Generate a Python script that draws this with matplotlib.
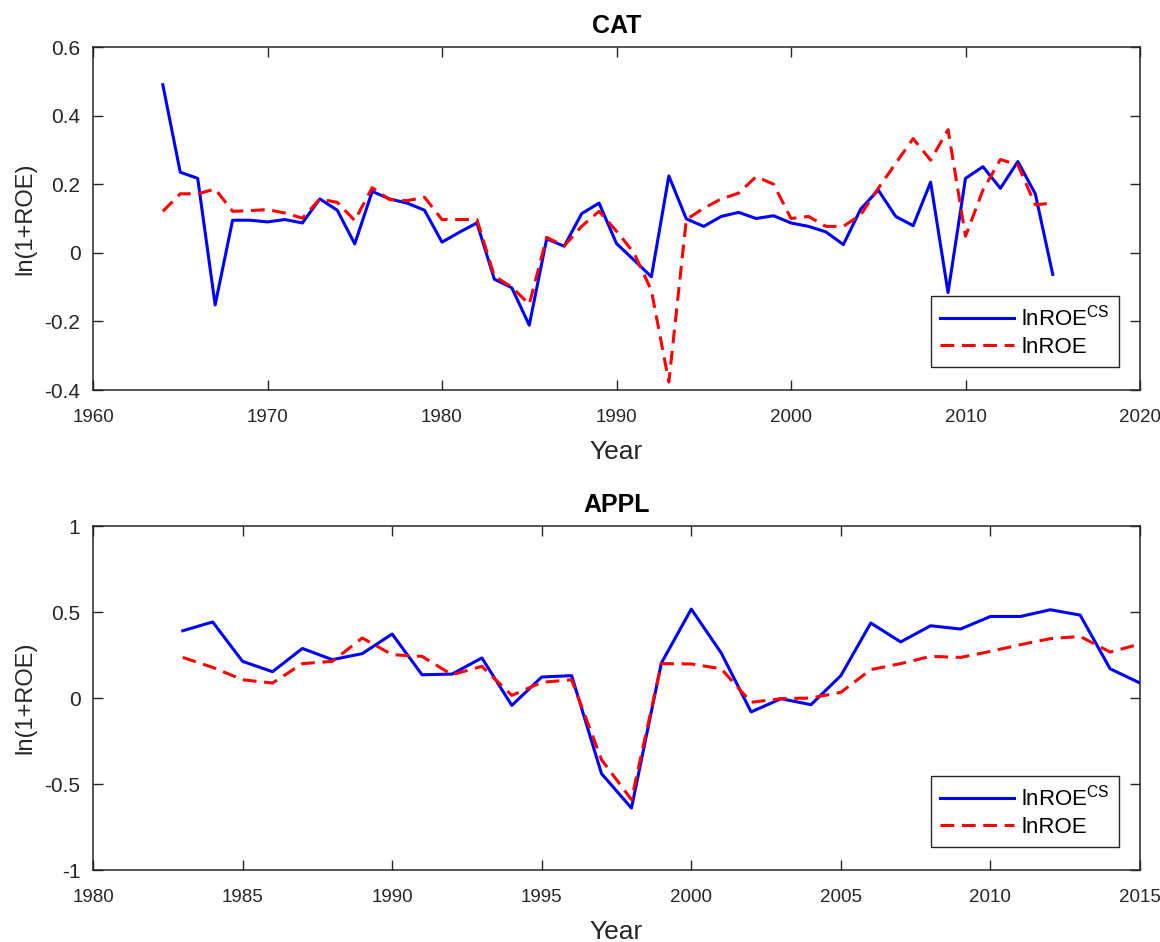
import matplotlib
matplotlib.use("Agg")
import matplotlib.pyplot as plt
from matplotlib.ticker import FuncFormatter

plt.rcParams["font.family"] = ["Liberation Sans", "DejaVu Sans"]
plt.rcParams["mathtext.fontset"] = "custom"
plt.rcParams["mathtext.rm"] = "Liberation Sans"
plt.rcParams["axes.unicode_minus"] = False

# CAT: 1964-2015
cat_years = list(range(1964, 2016))
cat_lnroe_cs = [0.49, 0.235, 0.217, -0.152, 0.095, 0.095, 0.09, 0.097, 0.087, 0.157,
                0.124, 0.026, 0.179, 0.157, 0.145, 0.124, 0.031, 0.06, 0.087, -0.077,
                -0.102, -0.211, 0.041, 0.019, 0.114, 0.145, 0.027, -0.021, -0.07, 0.224,
                0.099, 0.077, 0.106, 0.118, 0.1, 0.108, 0.087, 0.077, 0.061, 0.024,
                0.128, 0.183, 0.106, 0.079, 0.206, -0.116, 0.217, 0.251, 0.188, 0.266,
                0.172, -0.063]
cat_lnroe = [0.121, 0.172, 0.172, 0.186, 0.121, 0.123, 0.126, 0.116, 0.101, 0.157,
             0.147, 0.094, 0.19, 0.155, 0.152, 0.162, 0.097, 0.097, 0.097, -0.068,
             -0.1, -0.15, 0.045, 0.02, 0.077, 0.121, 0.063, 0.0, -0.11, -0.377,
             0.097, 0.13, 0.157, 0.174, 0.222, 0.2, 0.1, 0.106, 0.077, 0.077,
             0.111, 0.188, 0.261, 0.333, 0.27, 0.359, 0.048, 0.183, 0.272, 0.256,
             0.14, 0.145]

# APPL: 1983-2015
appl_years = list(range(1983, 2016))
appl_lnroe_cs = [0.391, 0.442, 0.213, 0.153, 0.288, 0.223, 0.258, 0.372, 0.135,
                 0.139, 0.233, -0.043, 0.122, 0.13, -0.44, -0.64, 0.203, 0.517, 0.262, -0.081,
                 -0.004, -0.039, 0.13, 0.436, 0.326, 0.42, 0.401, 0.474, 0.474, 0.513,
                 0.482, 0.17, 0.087]
appl_lnroe = [0.236, 0.178, 0.106, 0.087, 0.2, 0.213, 0.349, 0.252, 0.242,
              0.135, 0.184, 0.015, 0.091, 0.106, -0.359, -0.591, 0.2, 0.198, 0.17, -0.025,
              -0.004, 0.0, 0.033, 0.165, 0.2, 0.242, 0.236, 0.271, 0.31, 0.345,
              0.358, 0.267, 0.314]

cat_yticks = [-0.4, -0.2, 0, 0.2, 0.4, 0.6]
appl_yticks = [-1, -0.5, 0, 0.5, 1]
cat_xticks = [1960, 1970, 1980, 1990, 2000, 2010, 2020]
appl_xticks = [1980, 1985, 1990, 1995, 2000, 2005, 2010, 2015]

W, H = 1160, 942
fig = plt.figure(figsize=(W / 100, H / 100), dpi=100)
gray = "#262626"


def make_panel(rect, title, years, cs, roe, xlim, ylim, xticks, yticks):
    ax = fig.add_axes(rect)
    ax.plot(years, cs, color="blue", lw=2.2, label=r"lnROE$^{\rm CS}$")
    ax.plot(years, roe, color="red", lw=2.2, linestyle=(0, (4.5, 2.5)), label="lnROE")
    ax.set_xlim(*xlim)
    ax.set_ylim(*ylim)
    ax.set_xticks(xticks)
    ax.set_yticks(yticks)
    ax.yaxis.set_major_formatter(FuncFormatter(lambda v, p: "%g" % v))
    ax.tick_params(direction="in", top=True, right=True, length=7, width=1,
                   colors=gray)
    ax.tick_params(axis="x", pad=14, labelsize=13.5)
    ax.tick_params(axis="y", pad=9, labelsize=15)
    for s in ax.spines.values():
        s.set_color(gray)
        s.set_linewidth(1.1)
    ax.set_title(title, fontsize=18, fontweight="bold", pad=10)
    ax.set_xlabel("Year", fontsize=19, color=gray, labelpad=10)
    ax.set_ylabel("ln(1+ROE)", fontsize=17, color=gray, labelpad=6)
    leg = ax.legend(loc="lower right", bbox_to_anchor=(0.980, 0.067), borderaxespad=0,
                    fontsize=16, handlelength=3.3, fancybox=False, framealpha=1,
                    edgecolor=gray, borderpad=0.4, labelspacing=0.3, handletextpad=0.35)
    leg.get_frame().set_linewidth(1.0)
    return ax


make_panel([93 / W, 1 - 390 / H, 1047 / W, 343 / H], "CAT", cat_years,
           cat_lnroe_cs, cat_lnroe, (1960, 2020), (-0.4, 0.6), cat_xticks, cat_yticks)
make_panel([93 / W, 1 - 870 / H, 1047 / W, 344 / H], "APPL", appl_years,
           appl_lnroe_cs, appl_lnroe, (1980, 2015), (-1, 1), appl_xticks, appl_yticks)

fig.savefig("out.png", dpi=100)
plt.close(fig)
